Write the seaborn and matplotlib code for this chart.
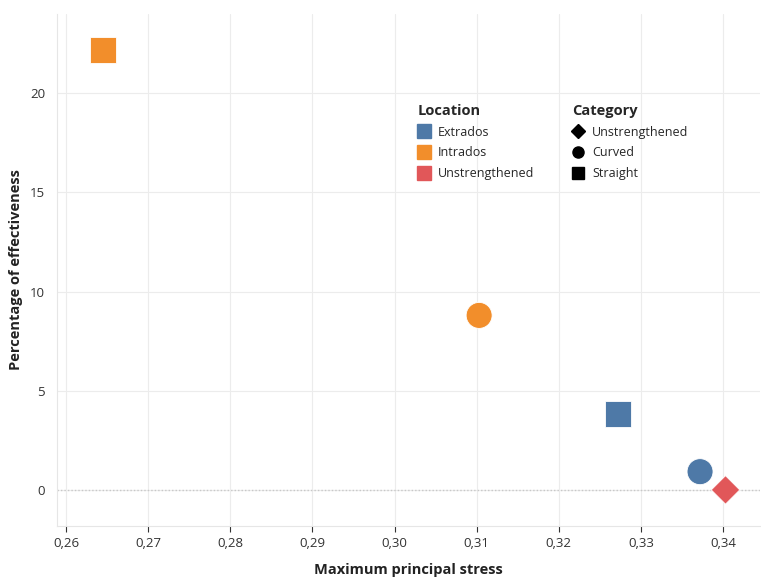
import matplotlib
matplotlib.use("Agg")
import matplotlib.pyplot as plt
import seaborn as sns
import pandas as pd
from matplotlib.lines import Line2D

# ---- data ----
stress = [0.2645, 0.3103, 0.3272, 0.3372, 0.3403]
effectiveness = [22.2, 8.8, 3.85, 0.92, 0.0]
location = ["Intrados", "Intrados", "Extrados", "Extrados", "Unstrengthened"]
category = ["Straight", "Curved", "Straight", "Curved", "Unstrengthened"]

location_levels = ["Extrados", "Intrados", "Unstrengthened"]
category_levels = ["Unstrengthened", "Curved", "Straight"]

x_ticks = [0.26, 0.27, 0.28, 0.29, 0.30, 0.31, 0.32, 0.33, 0.34]
x_tick_labels = ["0,26", "0,27", "0,28", "0,29", "0,30", "0,31", "0,32", "0,33", "0,34"]
y_ticks = [0, 5, 10, 15, 20]
y_tick_labels = ["0", "5", "10", "15", "20"]

df = pd.DataFrame({"stress": stress, "eff": effectiveness,
                   "Location": location, "Category": category})

palette = {"Extrados": "#4E79A7", "Intrados": "#F28E2B", "Unstrengthened": "#E15759"}
markers = {"Unstrengthened": "D", "Curved": "o", "Straight": "s"}
sizes = {"Unstrengthened": 210, "Curved": 350, "Straight": 350}

sns.set_style("white")
plt.rcParams["font.family"] = ["Open Sans", "DejaVu Sans"]

fig = plt.figure(figsize=(7.61, 5.77), dpi=100)
ax = fig.add_axes([57/761, 1-526/577, 703/761, 512/577])

sns.scatterplot(data=df, x="stress", y="eff", hue="Location", style="Category",
                size="Category", sizes=sizes, palette=palette, markers=markers,
                hue_order=location_levels, style_order=category_levels,
                edgecolor="white", linewidth=0.6, legend=False, ax=ax, zorder=3)

ax.set_xlim(0.2589, 0.3445)
ax.set_ylim(-1.82, 24.0)
ax.set_xticks(x_ticks)
ax.set_xticklabels(x_tick_labels)
ax.set_yticks(y_ticks)
ax.set_yticklabels(y_tick_labels)

ax.grid(True, color="#ececec", linewidth=0.8)
ax.set_axisbelow(True)
ax.axhline(0, color="#c8c8c8", linestyle=(0, (1, 1.5)), linewidth=1.0, zorder=1)

for s in ["top", "right"]:
    ax.spines[s].set_visible(False)
for s in ["left", "bottom"]:
    ax.spines[s].set_color("#e6e6e6")
    ax.spines[s].set_linewidth(0.8)

ax.tick_params(axis="x", which="both", bottom=True, length=4, width=0.8,
               color="#333333", labelsize=9.5, labelcolor="#333333", pad=4)
ax.tick_params(axis="y", which="both", left=False, labelsize=9.5,
               labelcolor="#333333", pad=5)

ax.set_xlabel("Maximum principal stress", fontsize=10.5, fontweight="bold",
              color="#222222", labelpad=9)
ax.set_ylabel("Percentage of effectiveness", fontsize=10.5, fontweight="bold",
              color="#222222", labelpad=5)

# ---- legends ----
loc_handles = [Line2D([], [], marker="s", linestyle="", markersize=10,
                      markerfacecolor=palette[l], markeredgecolor=palette[l])
               for l in location_levels]
cat_handles = [Line2D([], [], marker=markers[c], linestyle="",
                      markersize=7 if c == "Unstrengthened" else 8,
                      markerfacecolor="black", markeredgecolor="black")
               for c in category_levels]

leg_kw = dict(frameon=False, fontsize=9, title_fontsize=10.5,
              handletextpad=0.6, labelspacing=0.62, borderaxespad=0,
              handlelength=1.0, alignment="left", borderpad=0)
leg1 = fig.legend(loc_handles, location_levels, title="Location",
                  loc="upper left", bbox_to_anchor=(418/761, 1-104/577), **leg_kw)
leg1.get_title().set_fontweight("bold")
leg2 = fig.legend(cat_handles, category_levels, title="Category",
                  loc="upper left", bbox_to_anchor=(572/761, 1-104/577), **leg_kw)
leg2.get_title().set_fontweight("bold")

fig.savefig("out.png", dpi=100)
